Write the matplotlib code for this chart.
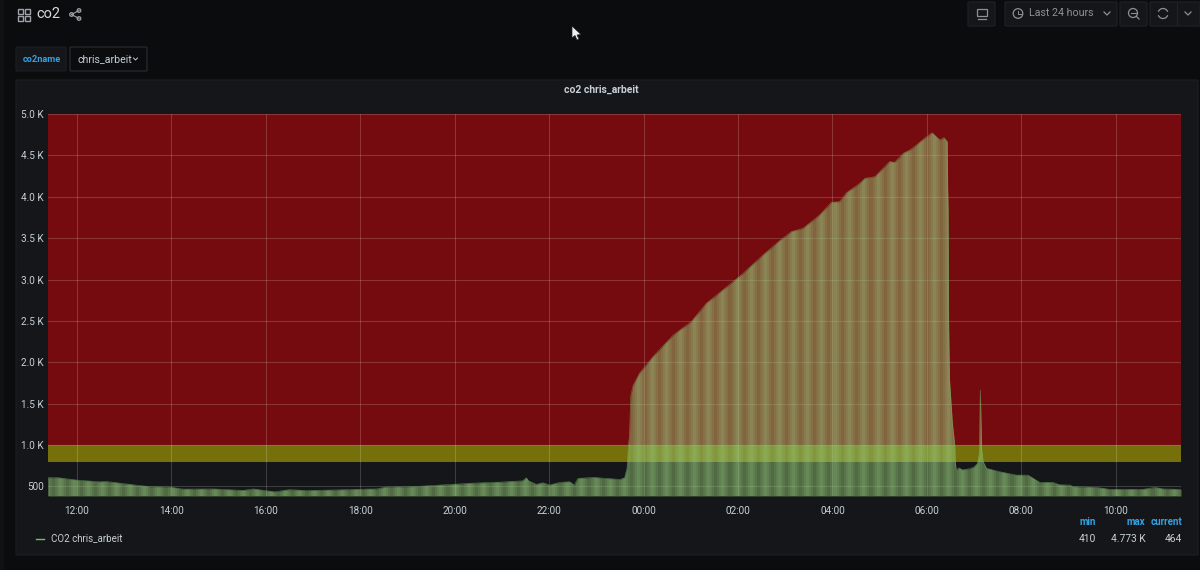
import matplotlib
matplotlib.use("Agg")
import matplotlib.pyplot as plt
import numpy as np
from matplotlib.patches import Arc, FancyBboxPatch, Rectangle, Circle, Polygon

plt.rcParams["font.family"] = ["Roboto", "DejaVu Sans"]

# hours since midnight of the first day and ppm
hours_day = [11.39, 11.60, 12.00, 12.49, 12.63, 13.12, 13.55, 13.97, 14.25, 14.89, 15.52, 15.73,
             16.19, 16.51, 16.86, 17.63, 18.13, 18.34, 18.56, 19.11, 19.69, 20.38, 20.96, 21.44,
             21.52, 21.56, 21.73, 21.87, 22.01, 22.23, 22.44, 22.53, 22.61, 22.93, 23.21, 23.50,
             23.60, 23.65]
co2_day = [606, 606, 577, 556, 560, 525, 497, 493, 468, 470, 452, 470,
           435, 462, 450, 460, 468, 470, 493, 497, 517, 540, 552, 568,
           605, 570, 525, 545, 517, 550, 557, 517, 597, 610, 597, 585,
           605, 720]
hours_rise = [23.68, 23.70, 23.73, 23.78, 23.92, 24.20, 24.63, 25.01, 25.33, 25.68, 26.11, 26.53,
              26.88, 27.13, 27.38, 27.73, 27.98, 28.15, 28.30, 28.58, 28.69, 28.90, 29.21, 29.32,
              29.50, 29.64, 29.78, 29.95, 30.11, 30.27, 30.36, 30.43]
co2_rise = [1000, 1100, 1600, 1720, 1870, 2067, 2329, 2490, 2712, 2873, 3075, 3296,
            3467, 3578, 3619, 3780, 3933, 3940, 4049, 4162, 4223, 4242, 4424, 4416,
            4525, 4565, 4625, 4706, 4773, 4686, 4714, 4665]
hours_fall = [30.44, 30.45, 30.46, 30.48, 30.54, 30.59, 30.60, 30.62, 30.68, 30.75, 30.90, 31.00, 31.07,
              31.11, 31.13, 31.14, 31.16, 31.19, 31.26, 31.54, 31.90, 32.14, 32.39, 32.67, 32.81,
              33.03, 33.09, 33.59, 33.87, 34.58, 34.83, 35.00, 35.38]
co2_fall = [4100, 3860, 2500, 1785, 1266, 1000, 800, 698, 725, 700, 715, 735, 780,
            900, 1665, 1450, 950, 800, 720, 678, 637, 637, 549, 549, 520,
            517, 497, 489, 465, 465, 489, 470, 464]

x_ticks = [12, 14, 16, 18, 20, 22, 24, 26, 28, 30, 32, 34]
x_labels = ["12:00", "14:00", "16:00", "18:00", "20:00", "22:00", "00:00", "02:00", "04:00", "06:00", "08:00", "10:00"]
y_ticks = [500, 1000, 1500, 2000, 2500, 3000, 3500, 4000, 4500, 5000]
y_labels = ["500", "1.0 K", "1.5 K", "2.0 K", "2.5 K", "3.0 K", "3.5 K", "4.0 K", "4.5 K", "5.0 K"]

hours = hours_day + hours_rise + hours_fall
co2 = co2_day + co2_rise + co2_fall

BG = "#0b0c0e"
PANEL = "#141619"
TXT = "#c7d0d9"
ICON = "#8e9094"
BLUE = "#33a2e5"
GREEN = "#8fbf70"

fig = plt.figure(figsize=(12, 5.7), dpi=100, facecolor=BG)

# page furniture, in pixel coordinates
ui = fig.add_axes([0, 0, 1, 1])
ui.set_xlim(0, 1200)
ui.set_ylim(570, 0)
ui.axis("off")


def box(x, y, w, h, face="#141619", edge="#202226"):
    ui.add_patch(FancyBboxPatch((x + 1, y + 1), w - 2, h - 2, boxstyle="round,pad=1", fc=face, ec=edge, lw=0.8))


ui.add_patch(Rectangle((0, 0), 4, 570, fc="#111214", ec="none"))
box(16, 80, 1182, 475, PANEL, "#1c1e22")

# header
for gx, gy in [(18, 9), (25, 9), (18, 16), (25, 16)]:
    ui.add_patch(Rectangle((gx, gy), 4.5, 4.5, fc="none", ec="#9fa3a8", lw=1))
ui.text(36, 14.5, "co2", color="#d8d9da", fontsize=10.5, va="center")
for cx, cy in [(71.5, 14.5), (79, 10.5), (79, 18.5)]:
    ui.add_patch(Circle((cx, cy), 1.8, fc="none", ec="#9fa3a8", lw=0.9))
ui.plot([71.5, 79], [14.5, 10.5], color="#9fa3a8", lw=0.8)
ui.plot([71.5, 79], [14.5, 18.5], color="#9fa3a8", lw=0.8)

# variable row
box(16, 47, 50, 24, PANEL, "#1c1e22")
ui.text(41.5, 59, "co2name", color=BLUE, fontsize=6.6, fontweight="bold", ha="center", va="center")
box(70, 47, 77, 24, BG, "#2c2e33")
ui.text(77, 59, "chris_arbeit", color="#c7d0d9", fontsize=7.7, va="center")
ui.plot([133.5, 135.5, 137.5], [58, 60, 58], color="#c7d0d9", lw=0.7)

# top right buttons
box(968, 2, 27, 24)
box(1005, 2, 112, 24)
box(1120, 2, 27, 24)
box(1150, 2, 50, 24)
ui.add_patch(Rectangle((977, 9), 10, 7, fc="none", ec=ICON, lw=0.9))
ui.plot([978, 986], [19, 19], color=ICON, lw=0.9)
ui.add_patch(Circle((1018, 13.5), 4.8, fc="none", ec=ICON, lw=0.9))
ui.plot([1018, 1018, 1021], [10.5, 13.5, 13.5], color=ICON, lw=0.7)
ui.text(1029, 13.5, "Last 24 hours", color=ICON, fontsize=7.7, va="center")
ui.plot([1104, 1107, 1110], [12, 15, 12], color=ICON, lw=0.9)
ui.add_patch(Circle((1133, 13), 4.5, fc="none", ec=ICON, lw=0.9))
ui.plot([1130.5, 1135.5], [13, 13], color=ICON, lw=0.8)
ui.plot([1136.5, 1139], [16.5, 19], color=ICON, lw=0.9)
ui.add_patch(Arc((1163, 13.5), 10, 10, theta1=20, theta2=160, ec=ICON, lw=0.9))
ui.add_patch(Arc((1163, 13.5), 10, 10, theta1=200, theta2=340, ec=ICON, lw=0.9))
ui.plot([1176.5, 1176.5], [3, 25], color="#202226", lw=0.8)
ui.plot([1185, 1188, 1191], [12, 15, 12], color=ICON, lw=0.9)

ui.text(601.5, 90, "co2 chris_arbeit", color="#c7d0d9", fontsize=7.5, fontweight="bold", ha="center", va="center")

# legend and stats
ui.plot([36, 44], [538.5, 538.5], color="#73bf69", lw=1)
ui.text(51, 538.5, "CO2 chris_arbeit", color="#c7d0d9", fontsize=7, va="center")
for sx, head, val in [(1096, "min", "410"), (1145.5, "max", "4.773 K"), (1182, "current", "464")]:
    ui.text(sx, 522, head, color=BLUE, fontsize=7, fontweight="bold", ha="right", va="center")
    ui.text(sx, 538.5, val, color="#c7d0d9", fontsize=7.4, ha="right", va="center")

# the graph itself
ax = fig.add_axes([48 / 1200, 1 - 496 / 570, (1181 - 48) / 1200, (496 - 114) / 570], facecolor="none")
ax.set_xlim(11.39, 35.38)
ax.set_ylim(385, 5000)

ax.axhspan(1000, 5000, color="#750b0e", lw=0, zorder=1)
ax.axhspan(800, 1000, color="#75700a", lw=0, zorder=1)
ax.axhline(1000, color="#5a5a55", lw=0.8, zorder=1.5)

ax.set_xticks(x_ticks, x_labels)
ax.set_yticks(y_ticks, y_labels)
ax.grid(True, color="#ffffff", alpha=0.17, lw=0.8, zorder=2)
ax.set_axisbelow(False)
ax.tick_params(length=0, colors=TXT, labelsize=7.2, pad=7)
ax.tick_params(axis="y", pad=3)
for spine in ax.spines.values():
    spine.set_visible(False)

area = ax.fill_between(hours, co2, 385, color=GREEN, alpha=0.5, lw=0, zorder=3)
outline = area.get_paths()[0]

# the moire bands of the dense fill
band_step = 14.1 / 47.23
band_x = np.arange(23.88 - 42 * band_step, 35.4, band_step)
for lw, a in [(8, 0.09), (5, 0.11), (2.5, 0.11)]:
    bands = ax.vlines(band_x, 385, 5000, color="#a8dc90", lw=lw, alpha=a, zorder=4)
    bands.set_clip_path(outline, ax.transData)

ax.plot(hours, co2, color="#73bf69", lw=0.5, alpha=0.5, zorder=5)

# mouse pointer
cursor = fig.add_axes([0, 0, 1, 1], facecolor="none")
cursor.set_xlim(0, 1200)
cursor.set_ylim(570, 0)
cursor.axis("off")
cursor.add_patch(Polygon([(572, 26), (572, 38), (575, 35.5), (577, 40), (579, 39), (577, 35), (581, 34.5)],
                         fc="#f0f0f0", ec="#222222", lw=0.5))

fig.savefig("out.png", dpi=100, facecolor=BG)
